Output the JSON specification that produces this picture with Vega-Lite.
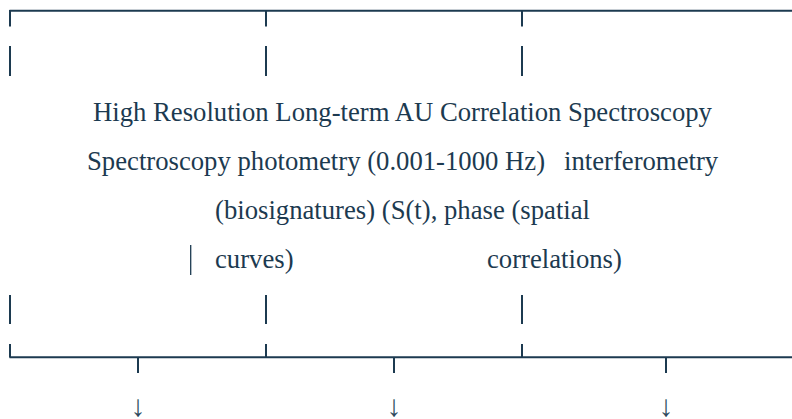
{
  "$schema": "https://vega.github.io/schema/vega-lite/v6.json",
  "width": 792,
  "height": 419,
  "autosize": {"type": "none"},
  "padding": 0,
  "background": "#ffffff",
  "config": {"view": {"stroke": null}},
  "datasets": {
    "segments": [
      {"x": 9.5, "x2": 792, "y": 10.8, "y2": 10.8},
      {"x": 10, "x2": 10, "y": 10, "y2": 26.5},
      {"x": 266, "x2": 266, "y": 10, "y2": 26.5},
      {"x": 522, "x2": 522, "y": 10, "y2": 26.5},
      {"x": 10, "x2": 10, "y": 46, "y2": 76},
      {"x": 266, "x2": 266, "y": 46, "y2": 76},
      {"x": 522, "x2": 522, "y": 46, "y2": 76},
      {"x": 10, "x2": 10, "y": 295, "y2": 324},
      {"x": 266, "x2": 266, "y": 295, "y2": 324},
      {"x": 522, "x2": 522, "y": 295, "y2": 324},
      {"x": 10, "x2": 10, "y": 344, "y2": 357.5},
      {"x": 266, "x2": 266, "y": 344, "y2": 357.5},
      {"x": 522, "x2": 522, "y": 344, "y2": 357.5},
      {"x": 9.5, "x2": 792, "y": 357.2, "y2": 357.2},
      {"x": 138, "x2": 138, "y": 357, "y2": 373},
      {"x": 394, "x2": 394, "y": 357, "y2": 373},
      {"x": 666, "x2": 666, "y": 357, "y2": 373}
    ],
    "thin": [
      {"x": 190.7, "x2": 190.7, "y": 245, "y2": 275}
    ],
    "labels": [
      {"x": 93, "y": 121, "t": "High Resolution Long-term AU Correlation Spectroscopy"},
      {"x": 87, "y": 170, "t": "Spectroscopy photometry (0.001-1000 Hz)"},
      {"x": 564, "y": 170, "t": "interferometry"},
      {"x": 215, "y": 219, "t": "(biosignatures) (S(t), phase (spatial"},
      {"x": 215, "y": 268, "t": "curves)"},
      {"x": 487, "y": 268, "t": "correlations)"}
    ],
    "arrows": [
      {"x": 138, "y": 416, "t": "↓"},
      {"x": 394, "y": 416, "t": "↓"},
      {"x": 666, "y": 416, "t": "↓"}
    ]
  },
  "layer": [
    {
      "data": {"name": "segments"},
      "mark": {"type": "rule", "color": "#1c3a50", "strokeWidth": 2},
      "encoding": {
        "x": {"field": "x", "type": "quantitative", "scale": {"domain": [0, 792], "nice": false, "zero": false}, "axis": null},
        "x2": {"field": "x2"},
        "y": {"field": "y", "type": "quantitative", "scale": {"domain": [0, 419], "nice": false, "zero": false, "reverse": true}, "axis": null},
        "y2": {"field": "y2"}
      }
    },
    {
      "data": {"name": "thin"},
      "mark": {"type": "rule", "color": "#1c3a50", "strokeWidth": 1.3},
      "encoding": {
        "x": {"field": "x", "type": "quantitative"},
        "x2": {"field": "x2"},
        "y": {"field": "y", "type": "quantitative"},
        "y2": {"field": "y2"}
      }
    },
    {
      "data": {"name": "labels"},
      "mark": {"type": "text", "align": "left", "baseline": "alphabetic", "font": "Liberation Serif", "fontSize": 26.7, "color": "#1c3a50"},
      "encoding": {
        "x": {"field": "x", "type": "quantitative"},
        "y": {"field": "y", "type": "quantitative"},
        "text": {"field": "t"}
      }
    },
    {
      "data": {"name": "arrows"},
      "mark": {"type": "text", "align": "center", "baseline": "alphabetic", "font": "Liberation Serif", "fontSize": 30, "color": "#2e4a5e"},
      "encoding": {
        "x": {"field": "x", "type": "quantitative"},
        "y": {"field": "y", "type": "quantitative"},
        "text": {"field": "t"}
      }
    }
  ],
  "resolve": {"scale": {"x": "shared", "y": "shared"}}
}
